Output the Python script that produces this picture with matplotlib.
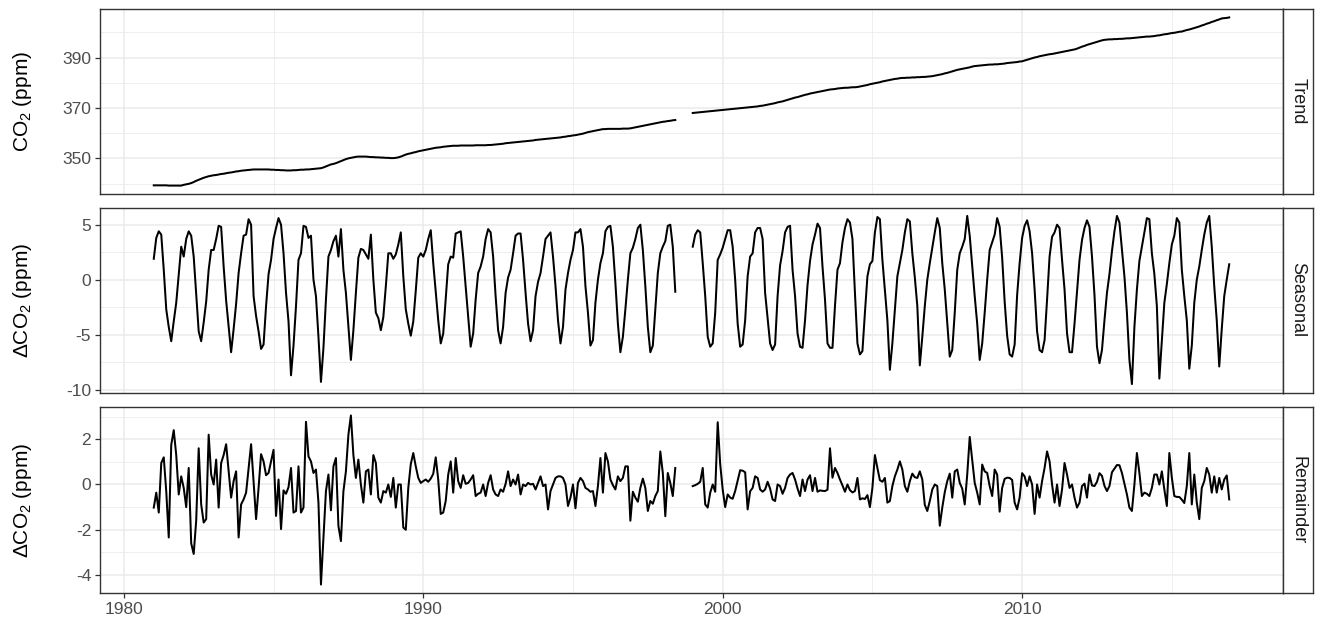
import numpy as np
import matplotlib
matplotlib.use("Agg")
import matplotlib.pyplot as plt
from matplotlib.ticker import FixedLocator

plt.rcParams['font.family'] = ['Liberation Sans', 'DejaVu Sans']
plt.rcParams['mathtext.fontset'] = 'custom'
plt.rcParams['mathtext.rm'] = 'Liberation Sans'
plt.rcParams['mathtext.it'] = 'Liberation Sans:italic'
plt.rcParams['axes.unicode_minus'] = False

nan = np.nan
years = list(range(1981, 2017))

# ---- Trend (ppm), monthly, one row per year ----
trend = [
    [339.3, 339.3, 339.3, 339.3, 339.3, 339.3, 339.2, 339.2, 339.2, 339.2, 339.2, 339.2],
    [339.5, 339.7, 339.9, 340.2, 340.6, 341.1, 341.5, 341.9, 342.3, 342.6, 342.9, 343.1],
    [343.3, 343.4, 343.6, 343.8, 343.9, 344.1, 344.3, 344.4, 344.6, 344.8, 344.9, 345.1],
    [345.2, 345.3, 345.4, 345.5, 345.6, 345.6, 345.6, 345.6, 345.6, 345.6, 345.6, 345.5],
    [345.5, 345.4, 345.4, 345.3, 345.3, 345.2, 345.2, 345.2, 345.3, 345.3, 345.4, 345.5],
    [345.5, 345.6, 345.6, 345.7, 345.8, 345.9, 346.0, 346.1, 346.4, 346.8, 347.2, 347.6],
    [347.8, 348.1, 348.5, 348.9, 349.3, 349.7, 350.0, 350.2, 350.4, 350.6, 350.7, 350.7],
    [350.7, 350.7, 350.6, 350.5, 350.5, 350.4, 350.4, 350.3, 350.3, 350.2, 350.2, 350.1],
    [350.1, 350.2, 350.4, 350.7, 351.1, 351.5, 351.8, 352.0, 352.3, 352.5, 352.8, 353.0],
    [353.2, 353.4, 353.6, 353.8, 354.0, 354.2, 354.3, 354.4, 354.6, 354.7, 354.8, 354.9],
    [355.0, 355.0, 355.0, 355.1, 355.1, 355.1, 355.1, 355.1, 355.1, 355.2, 355.2, 355.2],
    [355.2, 355.2, 355.3, 355.3, 355.4, 355.5, 355.6, 355.7, 355.8, 356.0, 356.1, 356.2],
    [356.3, 356.4, 356.5, 356.6, 356.7, 356.8, 356.9, 357.0, 357.1, 357.3, 357.4, 357.5],
    [357.6, 357.7, 357.8, 357.9, 358.0, 358.1, 358.2, 358.3, 358.5, 358.6, 358.8, 358.9],
    [359.1, 359.2, 359.4, 359.6, 359.8, 360.1, 360.4, 360.6, 360.8, 361.0, 361.2, 361.4],
    [361.6, 361.6, 361.7, 361.7, 361.7, 361.7, 361.7, 361.7, 361.8, 361.8, 361.8, 361.9],
    [362.1, 362.3, 362.5, 362.7, 362.9, 363.1, 363.3, 363.5, 363.7, 363.9, 364.1, 364.3],
    [364.5, 364.6, 364.8, 364.9, 365.1, 365.2, nan, nan, nan, nan, nan, nan],
    [368.0, 368.1, 368.2, 368.3, 368.4, 368.5, 368.6, 368.7, 368.8, 368.9, 369.0, 369.1],
    [369.2, 369.3, 369.4, 369.5, 369.6, 369.7, 369.8, 369.9, 370.0, 370.1, 370.2, 370.3],
    [370.4, 370.5, 370.6, 370.8, 370.9, 371.1, 371.3, 371.5, 371.7, 371.9, 372.2, 372.4],
    [372.6, 372.9, 373.2, 373.5, 373.8, 374.1, 374.3, 374.6, 374.9, 375.2, 375.4, 375.7],
    [375.9, 376.1, 376.3, 376.5, 376.7, 376.9, 377.1, 377.3, 377.4, 377.5, 377.7, 377.8],
    [377.9, 378.0, 378.0, 378.1, 378.2, 378.2, 378.3, 378.5, 378.7, 378.9, 379.1, 379.4],
    [379.6, 379.8, 380.0, 380.2, 380.5, 380.7, 380.9, 381.1, 381.3, 381.5, 381.6, 381.8],
    [381.9, 381.9, 382.0, 382.0, 382.1, 382.1, 382.2, 382.2, 382.3, 382.3, 382.4, 382.5],
    [382.6, 382.8, 383.0, 383.2, 383.4, 383.7, 383.9, 384.2, 384.5, 384.8, 385.1, 385.3],
    [385.5, 385.7, 385.9, 386.1, 386.4, 386.6, 386.7, 386.8, 386.9, 387.0, 387.1, 387.2],
    [387.2, 387.3, 387.3, 387.4, 387.5, 387.6, 387.8, 387.9, 388.0, 388.1, 388.2, 388.4],
    [388.5, 388.8, 389.1, 389.4, 389.7, 390.0, 390.2, 390.5, 390.7, 390.9, 391.1, 391.3],
    [391.4, 391.6, 391.8, 392.0, 392.2, 392.4, 392.6, 392.8, 393.0, 393.2, 393.5, 393.9],
    [394.3, 394.6, 395.0, 395.3, 395.6, 395.9, 396.2, 396.5, 396.8, 397.0, 397.1, 397.2],
    [397.2, 397.3, 397.3, 397.4, 397.4, 397.5, 397.6, 397.6, 397.7, 397.8, 397.9, 398.0],
    [398.1, 398.2, 398.3, 398.3, 398.4, 398.5, 398.7, 398.8, 399.0, 399.2, 399.3, 399.5],
    [399.7, 399.8, 400.0, 400.2, 400.3, 400.6, 400.9, 401.1, 401.4, 401.7, 402.0, 402.3],
    [402.7, 403.0, 403.4, 403.7, 404.1, 404.4, 404.8, 405.1, 405.5, 405.6, 405.7, 405.9],
]

# ---- Seasonal component (ppm) ----
seasonal = [
    [1.9, 3.8, 4.4, 4.1, 0.9, -2.7, -4.3, -5.6, -3.8, -2.1, 0.5, 3.0],
    [2.1, 3.7, 4.4, 4.0, 2.1, -1.3, -4.7, -5.6, -3.9, -2.0, 0.9, 2.7],
    [2.7, 3.7, 4.9, 4.8, 1.2, -1.9, -4.2, -6.6, -4.5, -2.2, 0.6, 2.4],
    [4.0, 4.1, 5.5, 5.0, -1.5, -3.3, -4.7, -6.3, -5.9, -2.4, 0.5, 1.8],
    [3.7, 4.7, 5.6, 5.0, 2.4, -1.2, -3.8, -8.7, -6.0, -2.4, 1.8, 2.4],
    [4.9, 4.8, 3.8, 4.0, 0.0, -1.5, -5.2, -9.3, -6.2, -1.8, 2.1, 2.7],
    [3.5, 4.0, 2.1, 4.6, 0.9, -1.2, -4.3, -7.3, -4.6, -1.2, 2.0, 2.8],
    [2.7, 2.3, 1.9, 4.1, 0.0, -3.0, -3.5, -4.6, -3.4, -0.6, 2.4, 2.4],
    [1.9, 2.3, 3.2, 4.3, 0.3, -2.7, -4.0, -5.1, -3.8, -1.0, 2.0, 2.4],
    [2.1, 2.7, 3.7, 4.5, 1.5, -1.1, -3.7, -5.8, -4.9, -1.8, 1.4, 2.1],
    [2.0, 4.2, 4.3, 4.4, 2.1, -0.6, -3.4, -6.1, -4.9, -1.8, 0.6, 1.2],
    [2.1, 3.7, 4.6, 4.3, 2.1, -1.5, -4.6, -5.8, -4.3, -1.2, 0.2, 0.9],
    [2.4, 4.0, 4.2, 4.2, 1.8, -1.2, -4.0, -5.6, -4.6, -1.5, -0.2, 0.6],
    [2.1, 3.7, 4.0, 4.3, 2.1, -0.6, -3.7, -5.8, -4.3, -0.9, 0.6, 1.8],
    [2.7, 4.3, 4.3, 4.6, 3.0, -0.6, -3.0, -6.0, -5.5, -2.1, 0.0, 1.5],
    [2.4, 4.4, 4.8, 4.9, 3.0, -0.3, -4.0, -6.6, -5.2, -2.7, 0.0, 2.4],
    [2.9, 3.7, 4.7, 5.0, 2.7, -0.6, -4.3, -6.6, -6.0, -2.7, 0.6, 2.4],
    [3.0, 3.5, 4.9, 5.0, 3.0, -1.1, nan, nan, nan, nan, nan, nan],
    [3.0, 4.1, 4.5, 4.3, 1.5, -1.5, -5.2, -6.1, -5.8, -3.0, 1.8, 2.3],
    [2.9, 3.7, 4.5, 4.5, 3.0, 0.0, -4.0, -6.1, -5.9, -3.7, 0.3, 2.1],
    [2.4, 4.3, 4.7, 4.7, 3.7, -1.2, -3.5, -5.8, -6.4, -5.9, -1.5, 1.3],
    [2.6, 4.3, 4.8, 4.9, 0.9, -1.5, -4.9, -6.1, -6.2, -3.7, -0.5, 1.7],
    [3.2, 4.1, 5.1, 4.7, 1.2, -1.8, -5.8, -6.2, -6.2, -2.4, 0.9, 1.5],
    [3.4, 4.7, 5.5, 5.2, 3.7, -1.2, -5.8, -6.8, -6.5, -3.0, 0.3, 1.4],
    [1.7, 4.3, 5.7, 5.5, 1.8, -0.9, -3.7, -8.2, -5.8, -2.7, 0.3, 1.5],
    [2.7, 4.3, 5.5, 5.3, 2.4, 0.2, -2.4, -7.8, -5.2, -2.4, 0.0, 1.5],
    [2.9, 4.3, 5.6, 4.7, 1.5, -0.9, -4.0, -7.0, -6.4, -3.0, 0.9, 2.4],
    [3.0, 3.7, 5.8, 4.0, 1.2, -1.5, -4.0, -7.3, -5.8, -3.0, 0.0, 2.7],
    [3.4, 4.1, 5.6, 4.8, 2.0, -2.0, -5.1, -6.8, -7.0, -5.9, -1.4, 1.5],
    [3.8, 4.9, 5.4, 4.4, 2.4, -0.9, -4.7, -6.4, -6.6, -5.5, -1.8, 2.1],
    [3.9, 4.3, 5.0, 4.7, 1.8, -0.9, -4.9, -6.6, -6.6, -4.0, -1.1, 1.8],
    [3.6, 4.7, 5.4, 4.8, 2.1, -1.4, -6.1, -7.6, -6.4, -3.7, -1.2, 0.5],
    [2.6, 4.4, 5.8, 5.2, 2.7, 0.3, -3.0, -7.3, -9.5, -4.3, -0.9, 1.7],
    [3.0, 4.3, 5.6, 5.5, 2.4, 0.5, -2.4, -9.0, -5.5, -2.1, -0.4, 1.5],
    [3.2, 4.0, 5.6, 5.2, 0.9, -1.5, -3.7, -8.1, -6.0, -2.1, 0.0, 1.2],
    [2.7, 4.1, 5.2, 5.8, 3.0, -0.6, -3.7, -7.9, -4.5, -1.5, 0.0, 1.4],
]

# ---- Remainder component (ppm) ----
remainder = [
    [-1.02, -0.36, -1.24, 0.95, 1.2, -0.3, -2.34, 1.75, 2.4, 1.3, -0.44, 0.36],
    [-0.15, -1.0, 0.73, -2.6, -3.07, -1.6, 1.6, -0.88, -1.68, -1.53, 2.2, 0.44],
    [0.0, 1.1, -1.02, 0.95, 1.3, 1.78, 0.58, -0.58, 0.15, 0.58, -2.34, -0.88],
    [-0.66, -0.36, 0.73, 1.78, 0.15, -1.53, -0.15, 1.34, 1.02, 0.41, 0.51, 1.02],
    [1.53, -1.39, 0.22, -1.97, -0.26, -0.41, -0.12, 0.73, -1.24, -1.17, 0.8, -1.24],
    [-1.02, 2.77, 1.24, 1.02, 0.51, 0.66, -0.8, -4.42, -2.34, -0.29, 0.44, -1.14],
    [0.8, 1.17, -1.83, -2.5, -0.3, 0.58, 2.2, 3.05, 1.3, 0.29, 1.1, 0.0],
    [-0.8, 0.58, 0.66, -0.44, 1.3, 0.95, -0.58, -0.8, -0.29, -0.36, 0.0, -0.55],
    [0.29, -1.02, 0.0, 0.0, -1.9, -2.0, -0.15, 0.9, 1.39, 0.8, 0.29, 0.07],
    [0.15, 0.22, 0.12, 0.26, 0.47, 1.2, 0.22, -1.3, -1.24, -0.73, 0.44, 1.02],
    [-0.36, 1.17, 0.15, -0.15, 0.41, 0.03, 0.07, 0.22, 0.41, -0.51, -0.41, -0.36],
    [0.0, -0.51, 0.07, 0.41, -0.22, -0.44, -0.51, -0.22, -0.32, 0.03, 0.58, -0.07],
    [0.22, 0.0, 0.44, -0.44, 0.0, -0.07, 0.07, 0.0, 0.03, -0.22, 0.07, 0.36],
    [-0.07, 0.0, -1.1, -0.29, 0.0, 0.29, 0.36, 0.36, 0.29, 0.0, -0.95, -0.58],
    [0.0, -1.05, 0.07, 0.29, 0.15, -0.15, -0.22, -0.32, -0.29, -0.95, -0.07, 1.17],
    [-0.36, 1.39, 1.02, 0.22, -0.03, -0.22, 0.36, 0.15, 0.29, 0.8, 0.8, -1.6],
    [-0.32, -0.58, -0.76, -0.15, 0.26, -0.15, -1.17, -0.73, -0.85, -0.51, -0.29, 1.46],
    [0.51, -1.4, 0.51, 0.07, -0.51, 0.73, nan, nan, nan, nan, nan, nan],
    [-0.07, -0.03, 0.03, 0.12, 0.73, -0.88, -1.02, -0.36, 0.0, -0.32, 2.75, 0.9],
    [-0.22, -1.0, -0.44, -0.58, -0.63, -0.29, 0.18, 0.63, 0.61, 0.54, -1.1, -0.3],
    [-0.15, 0.36, 0.29, -0.22, -0.32, -0.22, 0.12, -0.18, -0.66, -0.73, 0.0, -0.07],
    [-0.41, -0.15, 0.29, 0.44, 0.51, 0.22, -0.18, -0.51, 0.22, -0.29, 0.22, 0.41],
    [-0.29, 0.29, -0.32, -0.26, -0.28, -0.29, -0.23, 1.6, 0.3, 0.73, 0.51, 0.22],
    [-0.04, -0.32, 0.0, -0.25, -0.35, -0.29, 0.29, -0.66, -0.61, -0.64, -0.47, -1.0],
    [-0.15, 1.3, 0.73, 0.19, 0.12, 0.29, -0.8, -0.73, -0.07, 0.36, 0.66, 1.02],
    [0.66, -0.07, -0.32, 0.15, 0.48, 0.32, 0.29, 0.58, 0.22, -0.9, -1.17, -0.73],
    [-0.22, 0.0, -0.07, -1.82, -1.02, -0.34, 0.15, 0.48, -0.58, 0.58, 0.66, 0.07],
    [-0.18, -0.88, 0.44, 2.1, 1.1, 0.07, -0.36, -0.88, 0.88, 0.58, 0.51, -0.07],
    [-0.51, 0.66, 0.44, -1.2, -0.15, 0.25, 0.3, 0.29, 0.2, -0.8, -1.1, -0.58],
    [0.5, 0.36, -0.07, 0.36, 0.0, -1.3, 0.0, -0.58, 0.15, 0.73, 1.46, 1.02],
    [0.0, -0.8, 0.0, -0.95, -0.22, 0.95, 0.44, -0.15, 0.0, -0.58, -1.02, -0.8],
    [-0.07, 0.04, -0.58, 0.44, -0.04, -0.07, 0.12, 0.5, 0.38, -0.06, -0.29, -0.07],
    [0.54, 0.7, 0.86, 0.85, 0.51, 0.04, -0.44, -1.02, -1.17, 0.0, 1.39, 0.51],
    [-0.51, -0.36, -0.41, -0.51, -0.15, 0.44, 0.44, 0.0, 0.58, -0.22, -0.95, 1.39],
    [0.3, -0.51, -0.55, -0.55, -0.67, -0.82, -0.07, 1.39, -0.88, 0.44, -0.8, -1.53],
    [-0.15, 0.15, 0.73, 0.44, -0.36, 0.36, -0.36, 0.29, -0.22, 0.22, 0.4, -0.66],
]

panel_names = ["Trend", "Seasonal", "Remainder"]
y_labels = [r"CO$_2$ (ppm)", r"$\Delta$CO$_2$ (ppm)", r"$\Delta$CO$_2$ (ppm)"]
x_ticks = [1980, 1990, 2000, 2010]
x_minor = [1985, 1995, 2005, 2015]
y_ticks = [[350, 370, 390], [-10, -5, 0, 5], [-4, -2, 0, 2]]
y_minor = [[340, 360, 380, 400], [-7.5, -2.5, 2.5], [-3, -1, 1, 3]]

months = np.arange(12) / 12.0
t = np.concatenate([y + months for y in years])
series = [np.array(trend, dtype=float).ravel(),
          np.array(seasonal, dtype=float).ravel(),
          np.array(remainder, dtype=float).ravel()]

W, H = 1325, 631
fig = plt.figure(figsize=(W / 100, H / 100), dpi=100)

px_left, px_right = 100, 1283
strip_right = 1313
panels_px = [(9, 194), (207.5, 392.5), (407, 593)]

GRID = "#EBEBEB"
BORDER = "#333333"
TXT = "#4D4D4D"

for i, (top, bot) in enumerate(panels_px):
    ax = fig.add_axes([px_left / W, 1 - bot / H, (px_right - px_left) / W, (bot - top) / H])
    ax.plot(t, series[i], color="black", lw=1.45, solid_joinstyle="round")
    ax.margins(x=0.05, y=0.05)
    ax.xaxis.set_major_locator(FixedLocator(x_ticks))
    ax.xaxis.set_minor_locator(FixedLocator(x_minor))
    ax.yaxis.set_major_locator(FixedLocator(y_ticks[i]))
    ax.yaxis.set_minor_locator(FixedLocator(y_minor[i]))
    ax.grid(which="major", color=GRID, lw=1.1)
    ax.grid(which="minor", color=GRID, lw=0.55)
    ax.set_axisbelow(True)
    for s in ax.spines.values():
        s.set_color(BORDER)
        s.set_linewidth(1.0)
    ax.tick_params(which="major", length=3.8, width=0.9, color=BORDER,
                   labelsize=12.5, labelcolor=TXT, pad=2.5)
    ax.tick_params(which="minor", length=0)
    if i < 2:
        ax.tick_params(axis="x", which="major", bottom=False, labelbottom=False)
    ax.set_ylabel(y_labels[i], fontsize=15, color="black", va="center")
    ax.yaxis.set_label_coords((22 - px_left) / (px_right - px_left), 0.5)

    sax = fig.add_axes([px_right / W, 1 - bot / H, (strip_right - px_right) / W, (bot - top) / H])
    sax.set_xticks([])
    sax.set_yticks([])
    sax.set_facecolor("white")
    for s in sax.spines.values():
        s.set_color(BORDER)
        s.set_linewidth(1.0)
    sax.text(0.5, 0.5, panel_names[i], rotation=-90, ha="center", va="center",
             fontsize=13, color="#1A1A1A", transform=sax.transAxes)

fig.savefig("out.png", dpi=100)
